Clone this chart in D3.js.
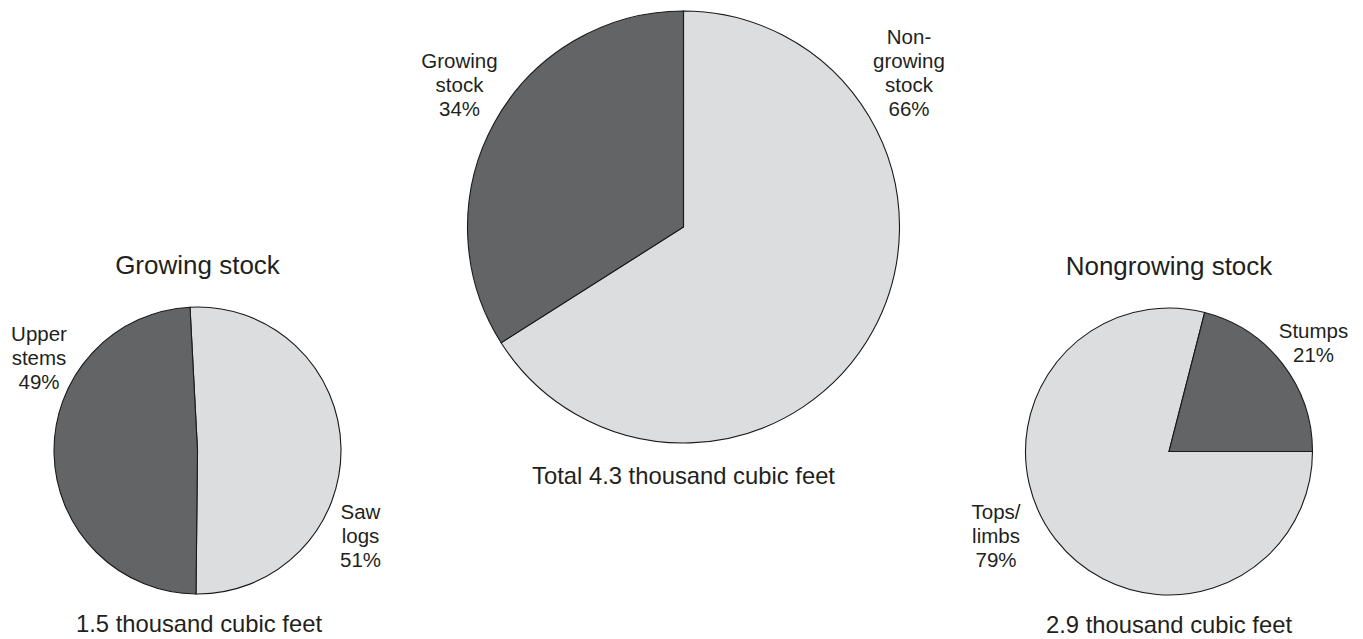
<!DOCTYPE html>
<html>
<head>
<meta charset="utf-8">
<script src="https://cdn.jsdelivr.net/npm/d3@7"></script>
<style>
  html, body { margin: 0; padding: 0; background: #ffffff; }
  svg { display: block; }
  text { font-family: "Liberation Sans", Arial, Helvetica, sans-serif; fill: #231f20; }
</style>
</head>
<body>
<svg id="chart" width="1363" height="639"></svg>
<script>
// ---- Data ----
const totalCategories = ["Non-growing stock", "Growing stock"];
const totalValues = [66, 34];
const totalCaption = "Total 4.3 thousand cubic feet";

const growingCategories = ["Saw logs", "Upper stems"];
const growingValues = [51, 49];
const growingTitle = "Growing stock";
const growingCaption = "1.5 thousand cubic feet";

const nongrowingCategories = ["Tops/limbs", "Stumps"];
const nongrowingValues = [79, 21];
const nongrowingTitle = "Nongrowing stock";
const nongrowingCaption = "2.9 thousand cubic feet";

// ---- Rendering ----
const svg = d3.select("#chart");
const deg = Math.PI / 180;
const colorScale = d3.scaleOrdinal()
  .domain(["light", "dark"])
  .range(["#dcdddf", "#636466"]);

function drawPie(cfg) {
  const g = svg.append("g").attr("transform", `translate(${cfg.cx},${cfg.cy})`);
  const data = cfg.categories.map((c, i) => ({ name: c, value: cfg.values[i], tone: cfg.tones[i] }));
  const pie = d3.pie().sort(null).value(d => d.value)
    .startAngle(cfg.start).endAngle(cfg.start + 2 * Math.PI);
  const arc = d3.arc().innerRadius(0).outerRadius(cfg.r);
  g.selectAll("path").data(pie(data)).join("path")
    .attr("d", arc)
    .attr("fill", d => colorScale(d.data.tone))
    .attr("stroke", "#1a1a1a")
    .attr("stroke-width", 1.1)
    .attr("stroke-linejoin", "miter");

  cfg.labels.forEach((lab, i) => {
    const t = svg.append("text")
      .attr("text-anchor", "middle")
      .attr("font-size", 20.5)
      .attr("x", lab.x).attr("y", lab.y);
    const d = data[i];
    const lines = lab.lines.concat([d.value + "%"]);
    lines.forEach((ln, j) => {
      t.append("tspan").attr("x", lab.x).attr("y", lab.y + j * 24).text(ln);
    });
  });

  if (cfg.title) {
    svg.append("text").attr("text-anchor", "middle").attr("font-size", 26)
      .attr("x", cfg.titleX).attr("y", cfg.titleY).text(cfg.title);
  }
  svg.append("text").attr("text-anchor", "middle").attr("font-size", 23.8)
    .attr("x", cfg.captionX).attr("y", cfg.captionY).text(cfg.caption);
}

// Center pie
drawPie({
  cx: 683.5, cy: 227, r: 216, start: 0,
  categories: totalCategories, values: totalValues, tones: ["light", "dark"],
  labels: [
    { x: 909, y: 43.5, lines: ["Non-", "growing", "stock"] },
    { x: 459.5, y: 67.5, lines: ["Growing", "stock"] }
  ],
  caption: totalCaption, captionX: 683.5, captionY: 483.5
});

// Left pie
drawPie({
  cx: 197.5, cy: 450.5, r: 143.5, start: -3 * deg,
  categories: growingCategories, values: growingValues, tones: ["light", "dark"],
  labels: [
    { x: 360.5, y: 518.5, lines: ["Saw", "logs"] },
    { x: 39, y: 340.5, lines: ["Upper", "stems"] }
  ],
  title: growingTitle, titleX: 197.5, titleY: 274,
  caption: growingCaption, captionX: 199, captionY: 631.5
});

// Right pie
drawPie({
  cx: 1169, cy: 451.5, r: 143.5, start: 90 * deg,
  categories: nongrowingCategories, values: nongrowingValues, tones: ["light", "dark"],
  labels: [
    { x: 996, y: 518.5, lines: ["Tops/", "limbs"] },
    { x: 1313.5, y: 338, lines: ["Stumps"] }
  ],
  title: nongrowingTitle, titleX: 1169, titleY: 275,
  caption: nongrowingCaption, captionX: 1169, captionY: 633
});
</script>
</body>
</html>
